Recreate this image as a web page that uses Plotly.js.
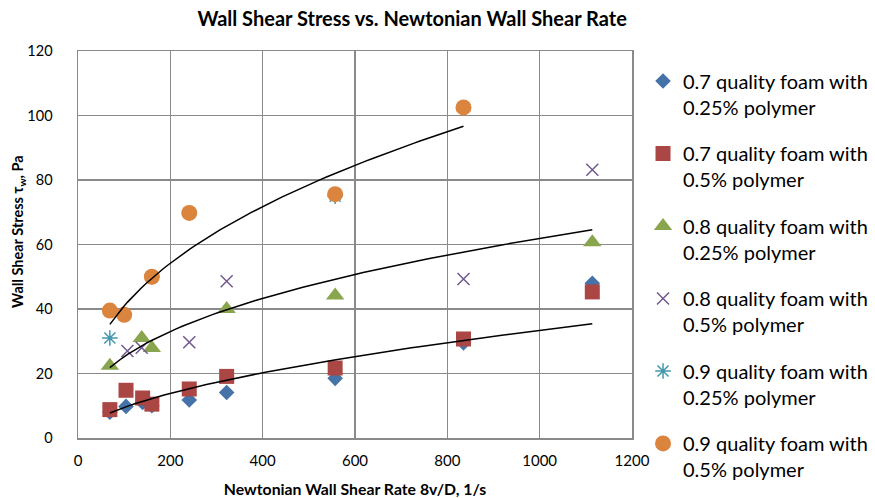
<!DOCTYPE html>
<html>
<head>
<meta charset="utf-8">
<script src="https://cdn.plot.ly/plotly-3.0.1.min.js"></script>
<style>
html,body{margin:0;padding:0;background:#fff;}
#chart{width:875px;height:498px;}
</style>
</head>
<body>
<div id="chart"></div>
<script>
// Series names
const seriesNames = [
  "0.7 quality foam with<br>0.25% polymer",
  "0.7 quality foam with<br>0.5% polymer",
  "0.8 quality foam with<br>0.25% polymer",
  "0.8 quality foam with<br>0.5% polymer",
  "0.9 quality foam with<br>0.25% polymer",
  "0.9 quality foam with<br>0.5% polymer"
];

// Data (Newtonian wall shear rate 8v/D, 1/s ; wall shear stress, Pa)
const x_q07_p025 = [69, 104, 140, 160, 241, 322, 557, 835, 1114];
const y_q07_p025 = [8.0, 9.8, 11.0, 10.0, 11.8, 14.1, 18.5, 29.5, 48.0];

const x_q07_p05 = [69, 104, 140, 160, 241, 322, 557, 835, 1114];
const y_q07_p05 = [8.8, 14.8, 12.4, 10.5, 15.2, 19.1, 21.7, 30.7, 45.3];

const x_q08_p025 = [69, 138, 160, 322, 557, 1114];
const y_q08_p025 = [22.4, 31.0, 27.9, 40.0, 44.2, 60.7];

const x_q08_p05 = [107, 138, 241, 322, 835, 1114];
const y_q08_p05 = [27.0, 28.0, 29.7, 48.6, 49.3, 83.2];

const x_q09_p025 = [69, 160, 557];
const y_q09_p025 = [31.0, 50.0, 75.0];

const x_q09_p05 = [69, 100, 160, 241, 557, 835];
const y_q09_p05 = [39.5, 38.2, 50.0, 69.8, 75.6, 102.5];

const xTickVals = [0, 200, 400, 600, 800, 1000, 1200];
const yTickVals = [0, 20, 40, 60, 80, 100, 120];

const chartTitle = "Wall Shear Stress vs. Newtonian Wall Shear Rate";
const xTitle = "Newtonian Wall Shear Rate 8v/D, 1/s";
const yTitle = "Wall Shear Stress τ<sub>w</sub>, Pa";

// Styles
const colors = ["#4572A7", "#AA4643", "#89A54E", "#71588F", "#4198AF", "#DB843D"];
const FONT = "Lato, 'Open Sans', sans-serif";
const GRID = "#8a8a8a";

function markerTrace(x, y, name, color, symbol, size, open) {
  const m = {color: color, symbol: symbol, size: size};
  if (open) { m.line = {color: color, width: 1.5}; }
  else { m.line = {width: 0}; }
  return {
    type: "scatter", mode: "markers", x: x, y: y, name: name,
    legendgroup: name, marker: m, hoverinfo: "x+y"
  };
}

// Power-law trendline (least squares in log-log space), like a spreadsheet power trendline
function powerTrend(xs, ys) {
  const n = xs.length;
  let sx = 0, sy = 0;
  for (let i = 0; i < n; i++) { sx += Math.log(xs[i]); sy += Math.log(ys[i]); }
  const mx = sx / n, my = sy / n;
  let sxy = 0, sxx = 0;
  for (let i = 0; i < n; i++) {
    const dx = Math.log(xs[i]) - mx;
    sxy += dx * (Math.log(ys[i]) - my);
    sxx += dx * dx;
  }
  const b = sxy / sxx;
  const a = Math.exp(my - b * mx);
  const xmin = Math.min(...xs), xmax = Math.max(...xs);
  const tx = [], ty = [];
  const steps = 80;
  for (let k = 0; k <= steps; k++) {
    const xv = xmin + (xmax - xmin) * k / steps;
    tx.push(xv); ty.push(a * Math.pow(xv, b));
  }
  return {
    type: "scatter", mode: "lines", x: tx, y: ty, showlegend: false,
    hoverinfo: "skip", line: {color: "#000000", width: 1.5}
  };
}

const traces = [
  markerTrace(x_q07_p025, y_q07_p025, seriesNames[0], colors[0], "diamond", 12, false),
  markerTrace(x_q07_p05, y_q07_p05, seriesNames[1], colors[1], "square", 15, false),
  markerTrace(x_q08_p025, y_q08_p025, seriesNames[2], colors[2], "triangle-up", 16, false),
  markerTrace(x_q08_p05, y_q08_p05, seriesNames[3], colors[3], "x-thin-open", 12, true),
  markerTrace(x_q09_p025, y_q09_p025, seriesNames[4], colors[4], "asterisk-open", 13, true),
  markerTrace(x_q09_p05, y_q09_p05, seriesNames[5], colors[5], "circle", 16, false),
  powerTrend(x_q07_p025.concat(x_q07_p05), y_q07_p025.concat(y_q07_p05)),
  powerTrend(x_q08_p025.concat(x_q08_p05), y_q08_p025.concat(y_q08_p05)),
  powerTrend(x_q09_p025.concat(x_q09_p05), y_q09_p025.concat(y_q09_p05))
];

const layout = {
  width: 875, height: 498,
  paper_bgcolor: "#ffffff", plot_bgcolor: "#ffffff",
  margin: {l: 78, r: 243, t: 51, b: 60, pad: 0, autoexpand: false},
  font: {family: FONT, color: "#000000"},
  title: {
    text: "<b>" + chartTitle + "</b>",
    font: {family: FONT, size: 20, color: "#000000"},
    xref: "container", x: 0.471, xanchor: "center",
    yref: "container", y: 0.962, yanchor: "middle"
  },
  xaxis: {
    range: [0, 1200], tickvals: xTickVals, ticks: "",
    showgrid: true, gridcolor: GRID, gridwidth: 1.5,
    showline: true, linecolor: GRID, linewidth: 1.5, mirror: true,
    zeroline: false, ticklabelstandoff: 8, automargin: false,
    tickfont: {family: FONT, size: 15, color: "#000000"},
    title: {text: "<b>" + xTitle + "</b>", font: {family: FONT, size: 15.8, color: "#000000"}, standoff: 17}
  },
  yaxis: {
    range: [0, 120], tickvals: yTickVals, ticks: "",
    showgrid: true, gridcolor: GRID, gridwidth: 1.5,
    showline: true, linecolor: GRID, linewidth: 1.5, mirror: true,
    zeroline: false, ticklabelstandoff: 21, automargin: false,
    tickfont: {family: FONT, size: 14.5, color: "#000000"}
  },
  annotations: [{
    text: "<b>" + yTitle + "</b>", textangle: -90,
    xref: "paper", x: -0.1065, xanchor: "center",
    yref: "paper", y: 0.535, yanchor: "middle",
    showarrow: false, font: {family: FONT, size: 14.5, color: "#000000"}
  }],
  legend: {
    x: 1.0199, xanchor: "left", y: 0.973, yanchor: "top",
    maxheight: 490,
    font: {family: FONT, size: 20, color: "#000000"},
    traceorder: "grouped", tracegroupgap: 17.5, valign: "top",
    bgcolor: "rgba(0,0,0,0)", borderwidth: 0
  },
  showlegend: true
};

Plotly.newPlot("chart", traces, layout, {displayModeBar: false, staticPlot: true});
</script>
</body>
</html>
